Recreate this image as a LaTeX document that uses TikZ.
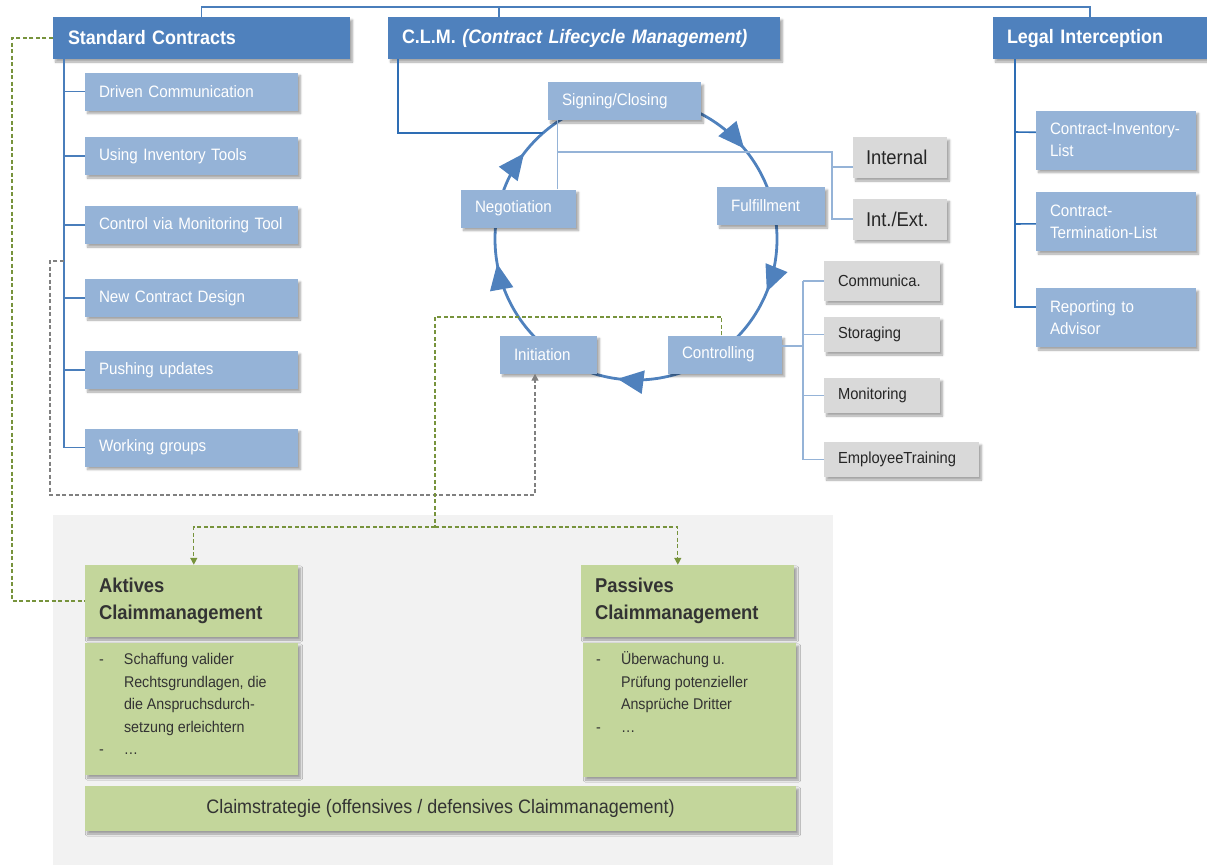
\documentclass[tikz,border=0pt]{standalone}
\usepackage{fontspec}
\setmainfont{Liberation Sans}[FakeStretch=0.92]
\usetikzlibrary{arrows.meta,shadows.blur,decorations.markings,calc}
\definecolor{hdr}{HTML}{4F81BD}
\definecolor{lb}{HTML}{95B3D7}
\definecolor{gbx}{HTML}{D9D9D9}
\definecolor{grn}{HTML}{C3D69B}
\definecolor{bgg}{HTML}{F2F2F2}
\definecolor{ln}{HTML}{4A7EBB}
\definecolor{lnd}{HTML}{2E6DB4}
\definecolor{oliv}{HTML}{77933C}
\definecolor{dtx}{HTML}{333333}
\definecolor{gtx}{HTML}{262626}
\tikzset{
  shd/.style={blur shadow={shadow xshift=2.5pt, shadow yshift=-3pt, shadow blur steps=6, shadow opacity=35}},
  base/.style={rectangle, inner ysep=0pt, inner xsep=14pt, align=left, shd},
  hbox/.style={base, fill=hdr, text=white, minimum height=42pt, font=\fontsize{19.5}{23}\selectfont\bfseries},
  kbox/.style={base, fill=lb, text=white, minimum height=38pt, font=\fontsize{16.5}{22}\selectfont},
  gbox/.style={base, fill=gbx, text=gtx, minimum height=35pt, font=\fontsize{16}{20}\selectfont},
  gboxl/.style={base, fill=gbx, text=gtx, minimum height=41pt, inner xsep=13pt, font=\fontsize{20}{24}\selectfont},
  lbox/.style={base, fill=lb, text=white, minimum height=59pt, font=\fontsize{16.5}{22}\selectfont},
  grh/.style={base, fill=grn, text=dtx, minimum height=72pt, font=\fontsize{20}{27}\selectfont\bfseries},
  grb/.style={base, fill=grn, text=dtx, inner xsep=0pt},
  lst/.style={inner sep=0pt, text=dtx, font=\fontsize{15.5}{22.5}\selectfont},
  bl/.style={draw=ln, line width=1.6pt},
  bld/.style={draw=lnd, line width=1.6pt},
  lbl/.style={draw=lb, line width=1.3pt},
  gdash/.style={draw=gray, line width=1.3pt, dash pattern=on 4pt off 2.5pt},
  odash/.style={draw=oliv, line width=1.3pt, dash pattern=on 4pt off 2.5pt},
  cyctip/.tip={Triangle[length=26pt,width=23pt]},
  circ/.style={draw=hdr, line width=2.8pt, postaction={decorate},
    decoration={markings,
      mark=at position 0.104 with {\arrow{cyctip}},
      mark=at position 0.389 with {\arrow{cyctip}},
      mark=at position 0.561 with {\arrow{cyctip}},
      mark=at position 0.771 with {\arrow{cyctip}},
      mark=at position 0.972 with {\arrow{cyctip}}}}
}
\begin{document}
\begin{tikzpicture}[x=1pt,y=-1pt]
\useasboundingbox (0,0) rectangle (1207,865);
\fill[bgg] (53,515) rectangle (833,865);

% cycle
\draw[circ] (495,239) arc[start angle=-180, end angle=180, radius=141];

% headers
\node[hbox, text width=267pt, inner xsep=15pt] (sc) at (201.5,38) {\mbox{Standard Contracts}};
\node[hbox, text width=364pt] (clm) at (584,38) {\mbox{C.L.M. \textit{(Contract Lifecycle Management)}}};
\node[hbox, text width=186pt] (li) at (1100,38) {\mbox{Legal Interception}};

% standard contracts children
\node[kbox, text width=185pt] (dc) at (191.5,91.5) {\mbox{Driven Communication}};
\node[kbox, text width=185pt] (ui) at (191.5,156) {\mbox{Using Inventory Tools}};
\node[kbox, text width=185pt] (cm) at (191.5,225) {\mbox{Control via Monitoring Tool}};
\node[kbox, text width=185pt] (nc) at (191.5,298) {\mbox{New Contract Design}};
\node[kbox, text width=185pt] (pu) at (191.5,370) {\mbox{Pushing updates}};
\node[kbox, text width=185pt] (wg) at (191.5,447.5) {\mbox{Working groups}};

% cycle boxes
\node[kbox, text width=125pt] (sign) at (624.5,101) {\mbox{Signing/Closing}};
\node[kbox, text width=87pt] (neg) at (518.5,208.5) {\mbox{Negotiation}};
\node[kbox, text width=80pt] (ful) at (771,206) {\mbox{Fulfillment}};
\node[kbox, text width=69pt] (ini) at (548.5,354.5) {\mbox{Initiation}};
\node[kbox, text width=86pt] (ctr) at (725,354.5) {\mbox{Controlling}};

% gray boxes
\node[gboxl, text width=68pt] (int) at (900,157.5) {\mbox{Internal}};
\node[gboxl, text width=68pt] (ie) at (900,219) {\mbox{Int./Ext.}};
\node[gbox, text width=88pt, minimum height=40pt] (com) at (882,281) {\mbox{Communica.}};
\node[gbox, text width=88pt] (sto) at (882,334.5) {\mbox{Storaging}};
\node[gbox, text width=88pt] (mon) at (882,395.5) {\mbox{Monitoring}};
\node[gbox, text width=127pt] (emp) at (901.5,459.5) {\mbox{EmployeeTraining}};

% legal children
\node[lbox, text width=132pt] (cil) at (1116,140) {Contract-Inventory-\\List};
\node[lbox, text width=132pt] (ctl) at (1116,221.5) {Contract-\\Termination-List};
\node[lbox, text width=132pt] (rep) at (1116,317.5) {Reporting to\\Advisor};

% claim management
\node[grh, text width=185pt] (akt) at (191.5,601) {Aktives\\Claimmanagement};
\node[grh, text width=185pt] (pas) at (687.5,601) {Passives\\Claimmanagement};
\node[grb, minimum width=213pt, minimum height=132pt] (aktt) at (191.5,709) {};
\node[grb, minimum width=213pt, minimum height=134pt] (past) at (689.5,710) {};
\node[grb, minimum width=711pt, minimum height=45pt, font=\fontsize{19.5}{23}\selectfont, align=center] (cs) at (440.5,808.5) {Claimstrategie (offensives / defensives Claimmanagement)};
\node[lst, anchor=base west] (aktl) at ($(aktt.north west)+(14,22)$) {\begin{tabular}[t]{@{}p{25pt}@{}l@{}}-&Schaffung valider\\&Rechtsgrundlagen, die\\&die Anspruchsdurch-\\&setzung erleichtern\\-&…\end{tabular}};
\node[lst, anchor=base west] (pasl) at ($(past.north west)+(13,22)$) {\begin{tabular}[t]{@{}p{25pt}@{}l@{}}-&Überwachung u.\\&Prüfung potenzieller\\&Ansprüche Dritter\\-&…\end{tabular}};

% top connector
\draw[bl] (sc.north) -- ++(0,-10) -| ($(li.north west)+(97,0)$);
\draw[bl] ($(clm.north west)+(111,0)$) -- ++(0,-10);

% standard contracts tree
\coordinate (scv) at ($(sc.south west)+(11,0)$);
\draw[bl] (scv) |- (wg.west);
\foreach \n in {dc,ui,cm,nc,pu} \draw[bl] (scv |- \n.west) -- (\n.west);

% CLM line
\coordinate (clmend) at (543,133);
\draw[bld] ($(clm.south west)+(10,0)$) |- (clmend);

% negotiation / signing and internal branch
\coordinate (nsx) at ($(neg.north west)+(97,0)$);
\draw[lbl] (nsx) -- (nsx |- sign.south);
\coordinate (ibr) at (832,152);
\draw[lbl] (nsx |- ibr) -- (ibr) |- (ie.west);
\draw[lbl] (ibr |- 0,167) -- (int.west |- 0,167);

% controlling branch
\coordinate (cbr) at (803,346);
\draw[lbl] (ctr.east |- cbr) -- (cbr);
\draw[lbl] (cbr |- com.west) |- (emp.west);
\draw[lbl] (cbr |- com.west) -- (com.west);
\draw[lbl] (cbr |- sto.west) -- (sto.west);
\draw[lbl] (cbr |- mon.west) -- (mon.west);

% legal tree
\coordinate (lv) at ($(li.south west)+(22,0)$);
\draw[bld] (lv) |- ($(rep.north west)+(0,19)$);
\draw[bld] (lv |- 0,132) -- ($(cil.north west)+(0,22)$);
\draw[bld] (lv |- 0,224) -- ($(ctl.north west)+(0,32)$);

% gray dashed
\draw[gdash, -{Triangle[length=7pt,width=7pt]}] (scv |- 0,261) -- (50,261) |- (535,495) -- (ini.south -| 535,0);

% olive dashed
\draw[odash] (sc.west) -- (12,38) |- (akt.west);
\coordinate (gj) at (435,527);
\draw[odash] ($(ctr.north west)+(54,0)$) |- (435,317) -- (gj);
\draw[odash, -{Triangle[length=7pt,width=7pt]}] (gj) -| ($(akt.north west)+(109,0)$);
\draw[odash, -{Triangle[length=7pt,width=7pt]}] (gj) -| ($(pas.north west)+(97,0)$);
\end{tikzpicture}
\end{document}
